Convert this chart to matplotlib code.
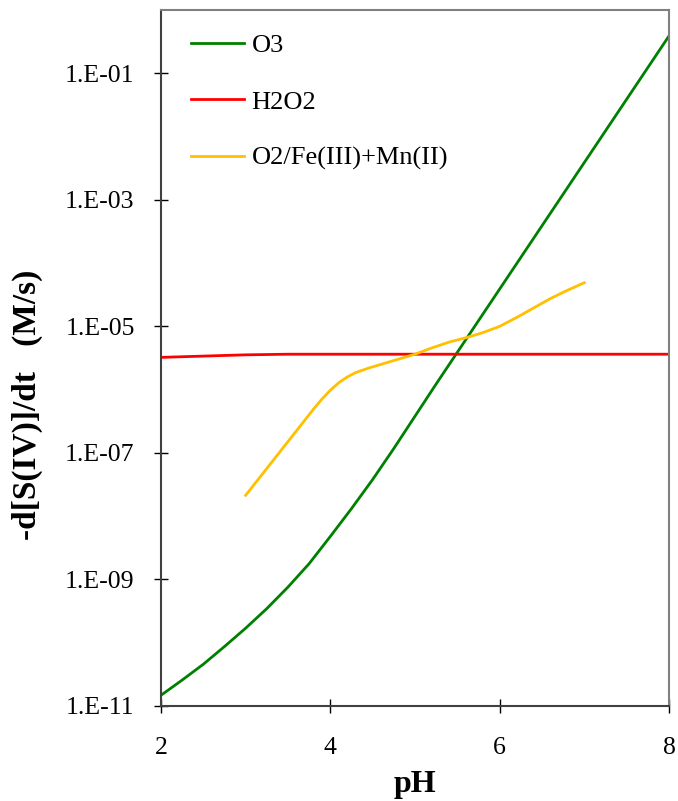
import numpy as np
import matplotlib
matplotlib.use("Agg")
import matplotlib.pyplot as plt
from matplotlib.ticker import FixedLocator, FuncFormatter, NullLocator

plt.rcParams['font.family'] = ['Liberation Serif', 'DejaVu Serif']

# S(IV) oxidation rate vs pH, given as log10 of the rate in M/s
ph_o3 = [2.0, 2.25, 2.5, 2.75, 3.0, 3.25, 3.5, 3.75, 4.0, 4.25, 4.5, 4.75, 5.0, 5.25, 5.5,
         6.0, 6.5, 7.0, 7.5, 8.0]
log_o3 = [-10.83, -10.59, -10.34, -10.06, -9.77, -9.46, -9.12, -8.75, -8.32, -7.88, -7.42,
          -6.93, -6.42, -5.91, -5.41, -4.41, -3.41, -2.41, -1.41, -0.41]

ph_h2o2 = [2.0, 2.5, 3.0, 3.5, 4.0, 5.0, 6.0, 7.0, 8.0]
log_h2o2 = [-5.49, -5.47, -5.45, -5.44, -5.44, -5.44, -5.44, -5.44, -5.44]

ph_fe = [3.0, 3.2, 3.4, 3.6, 3.8, 3.9, 4.0, 4.1, 4.2, 4.3, 4.45, 4.6, 4.8, 5.0, 5.2, 5.4,
         5.6, 5.8, 6.0, 6.2, 6.4, 6.6, 6.8, 7.0]
log_fe = [-7.67, -7.33, -6.99, -6.65, -6.31, -6.15, -6.01, -5.89, -5.80, -5.73, -5.66, -5.60,
          -5.52, -5.44, -5.34, -5.25, -5.18, -5.10, -5.00, -4.86, -4.71, -4.56, -4.43, -4.31]

rate_o3 = 10.0 ** np.array(log_o3)
rate_h2o2 = 10.0 ** np.array(log_h2o2)
rate_fe = 10.0 ** np.array(log_fe)

fig = plt.figure(figsize=(6.78, 8.01), dpi=100)
ax = fig.add_axes([161 / 678, 1 - 706 / 801, 508 / 678, 696 / 801])

ax.plot(ph_o3, rate_o3, color='#008000', lw=2.0, label='O3')
ax.plot(ph_h2o2, rate_h2o2, color='#FF0000', lw=2.0, label='H2O2')
ax.plot(ph_fe, rate_fe, color='#FFC000', lw=2.0, label='O2/Fe(III)+Mn(II)')

ax.set_yscale('log')
ax.set_xlim(2, 8)
ax.set_ylim(1e-11, 1)

ax.xaxis.set_major_locator(FixedLocator([2, 4, 6, 8]))
ax.yaxis.set_major_locator(FixedLocator([1e-11, 1e-9, 1e-7, 1e-5, 1e-3, 1e-1]))
ax.yaxis.set_minor_locator(NullLocator())
ax.yaxis.set_major_formatter(FuncFormatter(lambda v, p: f"1.E{int(round(np.log10(v))):03d}"))

ax.tick_params(axis='both', direction='inout', length=10, width=1, color='black',
               labelsize=18.5)
ax.tick_params(axis='y', pad=14)
ax.tick_params(axis='x', pad=17)

for side in ['top', 'right']:
    ax.spines[side].set_color('#808080')
    ax.spines[side].set_linewidth(1.5)
for side in ['left', 'bottom']:
    ax.spines[side].set_color('#404040')
    ax.spines[side].set_linewidth(1.5)

ax.set_xlabel('pH', fontsize=23, fontweight='bold', labelpad=8)
ax.set_ylabel('-d[S(IV)]/dt   (M/s)', fontsize=24, fontweight='bold')
ax.yaxis.set_label_coords(-0.232, 0.4325)

ax.legend(loc='upper left', bbox_to_anchor=(0.059, 0.966), frameon=False, fontsize=19,
          handlelength=2.0, handletextpad=0.3, labelspacing=1.25, borderpad=0,
          borderaxespad=0)

fig.savefig('out.png', dpi=100)
